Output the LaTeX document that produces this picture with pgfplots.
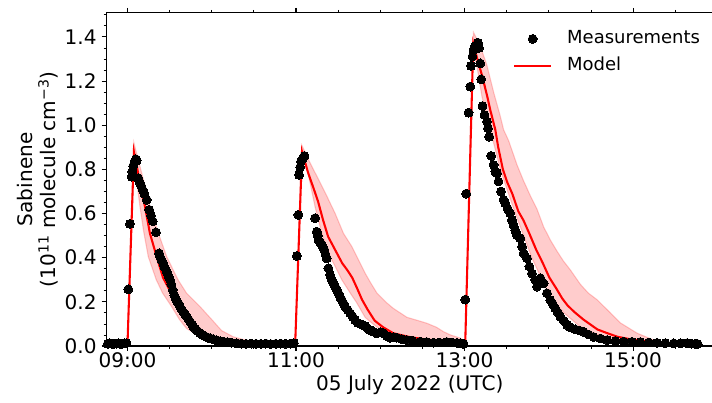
\documentclass[border=0pt]{standalone}
\usepackage{pgfplots}
\pgfplotsset{compat=1.18}
\usepackage{fontspec}
\setmainfont{DejaVu Sans}
\pgfplotsset{
  legdot/.style={legend image code/.code={\draw[mark repeat=2,mark phase=2,##1] plot coordinates {(0bp,0bp) (13.3bp,0bp) (26.6bp,0bp)};}},
  legline/.style={legend image code/.code={\draw[##1] (0bp,0bp) -- (26.6bp,0bp);}},
}
\begin{document}
\begin{tikzpicture}
\useasboundingbox (-76.6bp,-41bp) rectangle (436bp,249.1bp);
\begin{axis}[
  at={(0,0)}, anchor=south west,
  scale only axis, width=436.8bp, height=240bp,
  xmin=-15, xmax=417, ymin=0, ymax=1.51,
  xtick={0,120,240,360}, xticklabels={09:00,11:00,13:00,15:00},
  minor xtick={30,60,90,150,180,210,270,300,330,390},
  ytick={0,0.2,0.4,0.6,0.8,1.0,1.2,1.4},
  yticklabels={0.0,0.2,0.4,0.6,0.8,1.0,1.2,1.4},
  minor ytick={0.05,0.1,0.15,0.25,0.3,0.35,0.45,0.5,0.55,0.65,0.7,0.75,0.85,0.9,0.95,1.05,1.1,1.15,1.25,1.3,1.35,1.45,1.5},
  tick align=outside, major tick length=3.5bp, minor tick length=2bp,
  every tick/.style={black, line width=0.8bp},
  every minor tick/.style={black, line width=0.6bp},
  axis line style={black, line width=0.8bp},
  /pgf/number format/assume math mode=true,
  tick label style={font=\fontsize{14.5}{17}\selectfont},
  xticklabel style={yshift=2bp},
  xlabel={05 July 2022 (UTC)},
  ylabel={Sabinene\\(10\textsuperscript{11} molecule cm\textsuperscript{−3})},
  every axis x label/.style={at={(axis description cs:0.5,-0.1165)}, anchor=center, font=\fontsize{14.5}{17}\selectfont},
  every axis y label/.style={at={(axis description cs:-0.1125,0.5)}, anchor=center, rotate=90, align=center, font=\fontsize{14.5}{16.6}\selectfont},
  legend cell align=left,
  legend style={at={(axis description cs:1,1)}, anchor=north east, xshift=-9.4bp, yshift=-12.9bp,
    draw=none, fill=none, inner sep=0pt, outer sep=0pt, row sep=7.4bp,
    font=\fontsize{13}{15.6}\selectfont,
    nodes={inner sep=0pt, text height=9.5bp, text depth=2.5bp},
    /tikz/every odd column/.append style={column sep=10.8bp}},
]
% uncertainty band (upper forward, lower backward)
\addplot[forget plot, fill=red, draw=red, opacity=0.2, line width=0.8bp] table {
t v
-15 0.006
0 0.006
4.6 0.92
7.0 0.86
11.5 0.75
16.0 0.632
21.0 0.53
27.9 0.405
36.0 0.30
42.0 0.24
51.7 0.178
60.0 0.12
67.0 0.07
75.2 0.042
85.0 0.025
100.0 0.012
119.4 0.008
124.1 0.91
130.0 0.83
136.0 0.755
141.9 0.68
147.9 0.60
153.8 0.51
159.8 0.45
165.7 0.375
169.2 0.33
172.8 0.29
177.6 0.24
184.7 0.195
189.4 0.17
199.0 0.13
207.0 0.115
213.2 0.103
220.0 0.085
225.0 0.065
230.0 0.05
236.9 0.036
240.5 0.02
246.4 1.42
251.2 1.36
256.0 1.27
260.7 1.15
265.5 1.04
267.8 0.98
271.4 0.93
277.4 0.82
281.9 0.75
286.9 0.68
291.6 0.62
296.3 0.54
301.1 0.48
305.8 0.43
310.4 0.385
315.3 0.345
322.4 0.28
328.1 0.24
334.3 0.21
341.5 0.165
350.9 0.105
362.9 0.058
374.7 0.027
386.6 0.012
405.0 0.008
405.0 0.007
372.3 0.013
351.2 0.027
334.6 0.05
322.6 0.086
310.7 0.15
301.2 0.22
294.1 0.315
287.9 0.40
282.1 0.50
276.2 0.60
270.2 0.71
265.5 0.80
260.7 0.92
256.0 1.04
252.4 1.13
248.8 1.27
246.2 1.33
240.5 0.010
225.0 0.020
213.0 0.026
201.3 0.034
189.4 0.048
179.9 0.075
172.8 0.11
169.2 0.13
163.3 0.195
158.6 0.24
152.6 0.30
147.9 0.36
143.1 0.42
138.4 0.51
133.6 0.63
130.0 0.74
126.5 0.84
124.1 0.86
119.4 0.004
100.0 0.005
75.0 0.008
62.0 0.02
51.7 0.042
42.0 0.08
37.0 0.12
31.5 0.178
25.0 0.24
20.5 0.30
14.8 0.405
11.5 0.52
8.9 0.632
6.5 0.75
4.6 0.84
0 0.004
-15 0.004
};
% measurements
\addplot[only marks, mark=*, mark size=3.2bp, black, mark options={fill=black, draw=black, line width=0pt}, legdot] table {
t v
-14 0.010
-12.5 0.012
-11 0.011
-9.5 0.010
-8 0.011
-6.5 0.012
-5 0.010
-3.5 0.011
-2 0.012
-0.7 0.013
0.6 0.257
1.8 0.553
3.0 0.767
3.4 0.79
4.1 0.815
5.0 0.835
6.0 0.846
6.6 0.84
7.7 0.76
8.8 0.74
9.8 0.725
10.8 0.707
12.0 0.69
13.7 0.662
15.5 0.617
16.8 0.59
18.0 0.565
20.3 0.515
22.5 0.42
23.2 0.405
24.2 0.39
25.5 0.375
26.5 0.355
27.9 0.337
29.0 0.32
30.3 0.30
31.2 0.28
32.2 0.254
33.4 0.23
34.6 0.21
35.5 0.20
36.5 0.19
37.4 0.178
38.6 0.165
40.0 0.152
41.0 0.142
42.2 0.133
43.5 0.12
44.8 0.108
46.0 0.096
46.9 0.088
48.5 0.077
50.0 0.067
51.7 0.058
53.5 0.05
55.5 0.043
57.3 0.038
58.8 0.035
61.0 0.030
63.5 0.026
66.0 0.022
68.3 0.020
71.0 0.017
74.0 0.015
77.8 0.012
81.0 0.011
84.5 0.010
88 0.011
91.5 0.010
95 0.010
98.5 0.011
102 0.009
105.5 0.010
109 0.011
112.5 0.010
116 0.011
118.5 0.013
120.6 0.408
121.7 0.594
122.2 0.775
123.0 0.81
123.6 0.835
124.8 0.85
126.0 0.861
133.6 0.579
134.8 0.518
135.5 0.50
136.0 0.48
137.2 0.47
138.4 0.458
139.3 0.445
140.2 0.435
141.0 0.415
141.9 0.397
143.1 0.352
144.3 0.322
145.5 0.299
146.7 0.285
147.9 0.269
149.0 0.255
150.2 0.239
151.4 0.222
152.6 0.208
153.8 0.193
155.0 0.178
156.8 0.163
158.6 0.148
160.3 0.133
162.1 0.118
163.9 0.105
165.7 0.100
167.5 0.095
169.2 0.090
171.0 0.080
172.8 0.072
175.0 0.065
177.6 0.057
180.0 0.062
182.3 0.058
184.7 0.045
187.1 0.037
189.5 0.040
191.8 0.038
195.0 0.032
199.0 0.027
203.0 0.024
208.4 0.020
213.0 0.018
217.9 0.015
222.0 0.016
227.5 0.018
231.0 0.016
234.6 0.014
237.0 0.012
239.3 0.010
240.5 0.21
241.2 0.69
242.9 1.057
244.1 1.175
244.6 1.269
245.7 1.311
246.4 1.341
247.6 1.36
249.5 1.374
250.3 1.35
251.2 1.28
251.9 1.208
252.8 1.087
254.2 1.046
256.0 1.016
256.7 0.986
257.6 0.948
259.0 0.861
260.7 0.82
261.9 0.79
263.1 0.783
264.2 0.745
266.0 0.70
267.8 0.662
269.0 0.647
270.8 0.62
272.5 0.601
273.7 0.571
274.9 0.548
276.1 0.525
277.3 0.503
279.7 0.488
281.0 0.45
282.1 0.42
284.5 0.397
286.2 0.36
288.0 0.329
290.4 0.299
291.6 0.269
292.8 0.29
294.0 0.307
296.3 0.284
298.7 0.239
301.1 0.208
302.8 0.19
304.6 0.171
306.4 0.152
308.2 0.133
310.6 0.115
313.0 0.095
315.3 0.085
318.9 0.075
321.8 0.070
324.8 0.064
328.3 0.052
331.9 0.041
336.7 0.034
341.5 0.027
347.4 0.023
353.3 0.020
359.2 0.019
365.2 0.018
371.1 0.016
377.1 0.014
383.0 0.013
388.9 0.012
393.7 0.012
398.5 0.013
401.5 0.011
404.4 0.010
406.0 0.009
};
\addlegendentry{Measurements}
% model
\addplot[red, line width=1.5bp, mark=none, legline] table {
t v
-15 0.005
0 0.005
4.6 0.88
8.9 0.74
12.5 0.63
16.0 0.51
21.0 0.40
25.3 0.31
30.3 0.25
35.3 0.20
40.0 0.16
45.0 0.12
49.5 0.085
54 0.06
58.8 0.04
65 0.028
70.9 0.02
80 0.014
87.3 0.01
100 0.008
119.4 0.006
124.3 0.88
128.6 0.785
132.2 0.72
135.7 0.655
139.3 0.57
142.9 0.495
147.9 0.435
152.9 0.375
156.4 0.345
160.0 0.31
163.6 0.26
167.0 0.21
171.0 0.165
176.0 0.115
182.0 0.085
189.2 0.058
201.3 0.040
213.4 0.029
225.0 0.021
237.0 0.015
240.5 0.012
246.2 1.37
249.1 1.30
252.7 1.22
256.2 1.13
258.3 1.07
261.9 0.98
264.0 0.90
267.3 0.80
270.5 0.74
274.0 0.69
278.3 0.61
281.9 0.57
286.1 0.51
291.1 0.435
295.4 0.38
300.4 0.31
305.4 0.26
309.6 0.215
313.2 0.185
318.0 0.155
324.6 0.12
334.6 0.075
341.7 0.058
348.8 0.042
360.2 0.028
372.3 0.018
386.6 0.012
404.4 0.009
};
\addlegendentry{Model}
\end{axis}
\end{tikzpicture}
\end{document}
